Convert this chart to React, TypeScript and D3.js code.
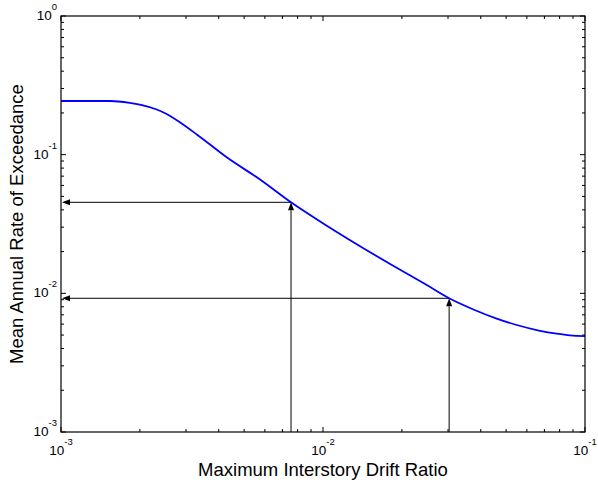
import React from 'react'
import * as d3 from 'd3'

// hazard curve
const driftRatio = [0.001, 0.00154, 0.00183, 0.0020, 0.00232, 0.00253, 0.00285, 0.0033, 0.00429, 0.00575, 0.00755, 0.0103, 0.0138, 0.0186, 0.0249, 0.0303, 0.0375, 0.046, 0.0549, 0.0673, 0.078, 0.0877, 0.1]
const annualRate = [0.2438, 0.2438, 0.2366, 0.230, 0.2117, 0.1965, 0.1706, 0.1398, 0.0957, 0.0662, 0.04534, 0.03084, 0.02195, 0.01574, 0.01147, 0.00921, 0.00765, 0.00658, 0.00591, 0.00537, 0.00512, 0.00498, 0.00492]

// the two arrows (drift, rate)
const arrowDrift = [0.00755, 0.0303]
const arrowRate = [0.04534, 0.00921]

const xTickExp = [-3, -2, -1]
const yTickExp = [-3, -2, -1, 0]

const W = 598
const H = 483
const margin = { top: 16, right: 13, bottom: 51, left: 61 }

function minorTicks(lo: number, hi: number) {
  const out: number[] = []
  for (let e = lo; e < hi; e++) {
    for (let k = 2; k <= 9; k++) out.push(k * Math.pow(10, e))
  }
  return out
}

export default function App() {
  const x0 = margin.left
  const x1 = W - margin.right
  const y0 = margin.top
  const y1 = H - margin.bottom

  const x = d3.scaleLog().domain([1e-3, 1e-1]).range([x0, x1])
  const y = d3.scaleLog().domain([1e-3, 1]).range([y1, y0])

  const pts = driftRatio.map((d, i) => [x(d), y(annualRate[i])] as [number, number])
  const path = d3.line().curve(d3.curveMonotoneX)(pts) || ''

  const font = 'Arial, "Liberation Sans", sans-serif'
  const major = 5
  const minor = 3

  const xMinor = minorTicks(-3, -1)
  const yMinor = minorTicks(-3, 0)

  const ah = 8 // arrowhead length
  const aw = 3 // arrowhead half width

  return (
    <svg width={W} height={H} style={{ position: 'absolute', left: 0, top: 0, display: 'block', background: '#fff' }}>
      <rect x={0} y={0} width={W} height={H} fill="#fff" />

      {/* ticks, all inside, on the four sides */}
      <g stroke="#000" strokeWidth={1}>
        {xTickExp.map(e => {
          const px = x(Math.pow(10, e))
          return (
            <g key={'xt' + e}>
              <line x1={px} x2={px} y1={y1} y2={y1 - major} />
              <line x1={px} x2={px} y1={y0} y2={y0 + major} />
            </g>
          )
        })}
        {xMinor.map((v, i) => {
          const px = x(v)
          return (
            <g key={'xm' + i}>
              <line x1={px} x2={px} y1={y1} y2={y1 - minor} />
              <line x1={px} x2={px} y1={y0} y2={y0 + minor} />
            </g>
          )
        })}
        {yTickExp.map(e => {
          const py = y(Math.pow(10, e))
          return (
            <g key={'yt' + e}>
              <line x1={x0} x2={x0 + major} y1={py} y2={py} />
              <line x1={x1} x2={x1 - major} y1={py} y2={py} />
            </g>
          )
        })}
        {yMinor.map((v, i) => {
          const py = y(v)
          return (
            <g key={'ym' + i}>
              <line x1={x0} x2={x0 + minor} y1={py} y2={py} />
              <line x1={x1} x2={x1 - minor} y1={py} y2={py} />
            </g>
          )
        })}
      </g>

      {/* arrows */}
      <g stroke="#000" strokeWidth={1} fill="#000">
        {arrowDrift.map((d, i) => {
          const px = x(d)
          const py = y(arrowRate[i])
          return (
            <g key={'ar' + i}>
              <line x1={px} x2={x0 + ah} y1={py} y2={py} />
              <path d={`M${x0 + 1},${py} L${x0 + 1 + ah},${py - aw} L${x0 + 1 + ah},${py + aw} Z`} stroke="none" />
              <line x1={px} x2={px} y1={y1} y2={py + ah} />
              <path d={`M${px},${py} L${px - aw},${py + ah} L${px + aw},${py + ah} Z`} stroke="none" />
            </g>
          )
        })}
      </g>

      <path d={path} fill="none" stroke="#0000ff" strokeWidth={1.8} />

      <rect x={x0} y={y0} width={x1 - x0} height={y1 - y0} fill="none" stroke="#000" strokeWidth={1.2} />

      {/* tick labels */}
      <g fontFamily={font} fill="#000">
        {xTickExp.map(e => (
          <text key={'xl' + e} x={x(Math.pow(10, e))} y={y1 + 23} textAnchor="middle" fontSize={13.5}>
            <tspan>10</tspan>
            <tspan dy={-10} fontSize={9.5}>{e}</tspan>
          </text>
        ))}
        {yTickExp.map(e => (
          <text key={'yl' + e} x={x0 - 4} y={y(Math.pow(10, e)) + 4} textAnchor="end" fontSize={13.5}>
            <tspan>10</tspan>
            <tspan dy={-10} fontSize={9.5}>{e}</tspan>
          </text>
        ))}
      </g>

      <text x={(x0 + x1) / 2} y={476} textAnchor="middle" fontFamily={font} fontSize={18.5}>
        Maximum Interstory Drift Ratio
      </text>
      <text
        transform={`translate(23,${(y0 + y1) / 2}) rotate(-90)`}
        textAnchor="middle"
        fontFamily={font}
        fontSize={18.5}
      >
        Mean Annual Rate of Exceedance
      </text>
    </svg>
  )
}
